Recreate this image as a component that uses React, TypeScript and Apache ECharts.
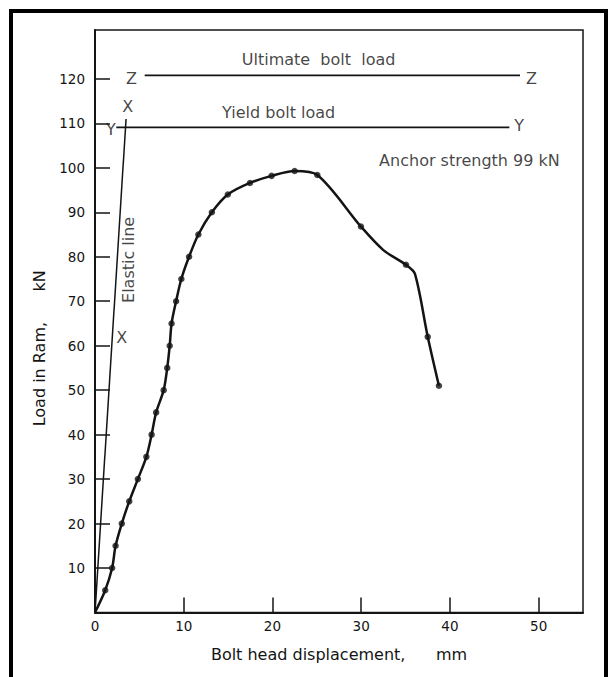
import React, { useEffect, useRef } from "react";
import * as echarts from "echarts";

// Measured test points (dots): bolt head displacement (mm) vs load in ram (kN)
const dispMM = [0, 1.15, 1.93, 2.32, 3.02, 3.86, 4.83, 5.79, 6.38, 6.89, 7.74, 8.14, 8.42, 8.63, 9.14, 9.73, 10.6, 11.65, 13.17, 14.97, 17.46, 19.9, 22.5, 25.06, 29.97, 35.05, 37.5, 38.76];
const loadKN = [0, 5, 10, 15, 20, 25, 30, 35, 40, 45, 50, 55, 60, 65, 70, 75, 80, 85, 90, 94, 96.6, 98.2, 99.3, 98.4, 86.8, 78.2, 62, 51];

// Extra points (no markers there)
const curveOnlyDisp = [32.5, 36.05];
const curveOnlyLoad = [81.5, 76.2];

// Reference lines
const ultimateLoad = 120.8;
const ultimateSpan = [5.6, 47.9];
const yieldLoad = 109.1;
const yieldSpan = [2.4, 46.7];
const elasticLineX = [0, 3.5];
const elasticLineY = [0, 111];

// Axis ticks / labels
const xTickValues = [10, 20, 30, 40, 50];
const xLabelValues = [0, 10, 20, 30, 40, 50];
const yTickValues = [10, 20, 30, 40, 50, 60, 70, 80, 90, 100, 110, 120];

// Annotation texts [text, x(mm), y(kN)]
const letterMarks: [string, number, number][] = [
  ["Z", 4.1, 120.2],
  ["Z", 49.2, 120.2],
  ["Y", 1.8, 108.6],
  ["Y", 47.8, 109.6],
  ["X", 3.7, 113.8],
  ["X", 3.0, 61.9],
];
const captions: [string, number, number][] = [
  ["Ultimate  bolt  load", 25.2, 124.4],
  ["Yield bolt load", 20.7, 112.5],
  ["Anchor strength 99 kN", 42.2, 101.7],
];
const elasticCaption: [string, number, number] = ["Elastic line", 3.8, 79.3];

const INK = "#141414";
const FONT = "DejaVu Sans";

export default function App() {
  const ref = useRef<HTMLDivElement>(null);
  useEffect(() => {
    document.body.style.margin = "0";
    if (!ref.current) return;
    const chart = echarts.init(ref.current, undefined, { renderer: "svg" });
    const textSeries = (items: [string, number, number][], extra: any = {}) => ({
      type: "scatter",
      silent: true,
      clip: false,
      symbolSize: 1,
      itemStyle: { color: "rgba(0,0,0,0)" },
      label: {
        show: true,
        position: "inside",
        formatter: "{b}",
        fontSize: 16,
        color: INK,
        fontFamily: FONT,
        ...extra,
      },
      data: items.map((t) => ({ name: t[0], value: [t[1], t[2]] })),
      z: 5,
    });
    const curve = dispMM
      .map((x, i) => [x, loadKN[i]])
      .concat(curveOnlyDisp.map((x, i) => [x, curveOnlyLoad[i]]))
      .sort((a, b) => a[0] - b[0]);
    chart.setOption({
      animation: false,
      backgroundColor: "#ffffff",
      textStyle: { fontFamily: FONT, color: INK },
      graphic: [
        {
          type: "polyline",
          shape: { points: [[11, 677], [11, 11], [606, 11], [606, 677]] },
          style: { stroke: "#000", lineWidth: 4, fill: null },
          silent: true,
        },
      ],
      grid: {
        left: 95,
        right: 29,
        top: 30,
        bottom: 64.5,
        show: true,
        borderColor: INK,
        borderWidth: 1.5,
        backgroundColor: "transparent",
      },
      xAxis: {
        type: "value",
        min: 0,
        max: 55,
        interval: 10,
        splitLine: { show: false },
        axisLine: { show: true, onZero: false, lineStyle: { color: INK, width: 2 } },
        axisTick: { show: true, inside: true, length: 15, customValues: xTickValues, lineStyle: { color: INK, width: 1.5 } },
        axisLabel: { customValues: xLabelValues, fontSize: 13.5, margin: 6, color: INK, fontFamily: FONT },
        name: "Bolt head displacement,      mm",
        nameLocation: "middle",
        nameGap: 34,
        nameTextStyle: { fontSize: 16, color: INK, fontFamily: FONT },
      },
      yAxis: {
        type: "value",
        min: 0,
        max: 131,
        interval: 10,
        splitLine: { show: false },
        axisLine: { show: true, onZero: false, lineStyle: { color: INK, width: 2 } },
        axisTick: { show: true, inside: true, length: 15, customValues: yTickValues, lineStyle: { color: INK, width: 1.5 } },
        axisLabel: { customValues: yTickValues, fontSize: 13.5, margin: 10, color: INK, fontFamily: FONT },
        name: "Load in Ram,      kN",
        nameLocation: "middle",
        nameGap: 48,
        nameRotate: 90,
        nameTextStyle: { fontSize: 16, color: INK, fontFamily: FONT, padding: [0, 54, 0, 0] },
      },
      series: [
        {
          name: "Load curve",
          type: "line",
          smooth: 0.3,
          symbol: "none",
          lineStyle: { color: INK, width: 2.5 },
          data: curve,
          z: 4,
        },
        {
          name: "Load",
          type: "scatter",
          symbol: "circle",
          symbolSize: 6.5,
          itemStyle: { color: INK },
          data: dispMM.slice(1).map((x, i) => [x, loadKN[i + 1]]),
          z: 4,
        },
        {
          name: "Ultimate bolt load",
          type: "line",
          symbol: "none",
          lineStyle: { color: INK, width: 1.8 },
          data: ultimateSpan.map((x) => [x, ultimateLoad]),
        },
        {
          name: "Yield bolt load",
          type: "line",
          symbol: "none",
          lineStyle: { color: INK, width: 1.8 },
          data: yieldSpan.map((x) => [x, yieldLoad]),
        },
        {
          name: "Elastic line",
          type: "line",
          symbol: "none",
          lineStyle: { color: INK, width: 1.5 },
          data: elasticLineX.map((x, i) => [x, elasticLineY[i]]),
        },
        textSeries(letterMarks),
        textSeries(captions),
        textSeries([elasticCaption], { rotate: 90 }),
      ],
    });
    return () => chart.dispose();
  }, []);
  return <div ref={ref} style={{ width: 612, height: 677 }} />;
}
